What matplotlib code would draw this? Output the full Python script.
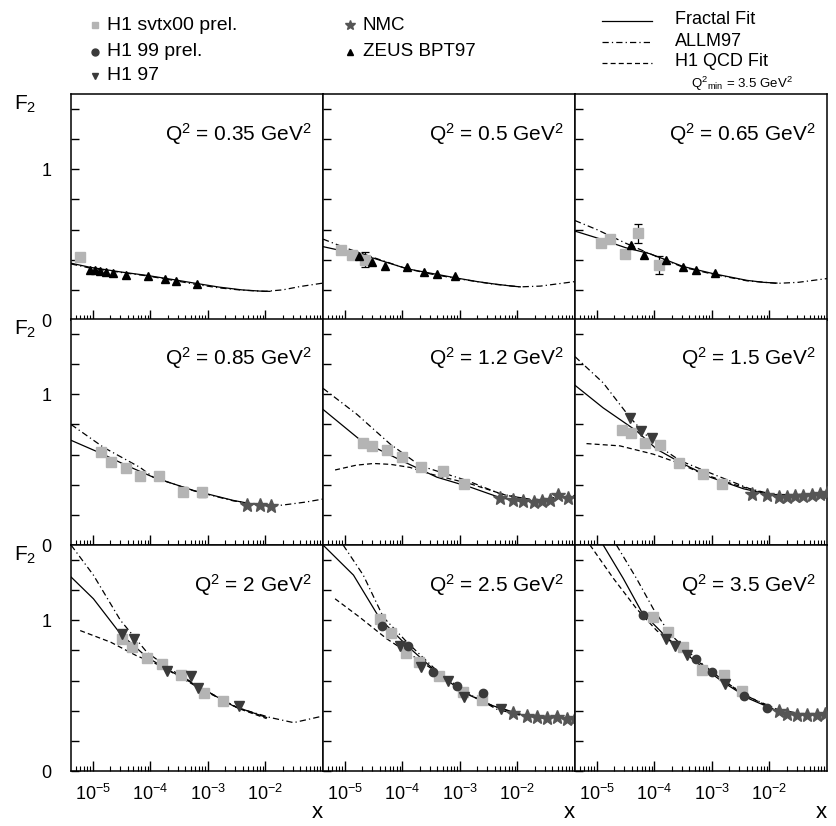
import numpy as np
import matplotlib
matplotlib.use('Agg')
from matplotlib import pyplot as plt
from matplotlib.ticker import LogLocator, NullFormatter

plt.rcParams['font.family'] = ['Liberation Sans', 'DejaVu Sans']
plt.rcParams['mathtext.fontset'] = 'custom'
plt.rcParams['mathtext.rm'] = 'Liberation Sans'
plt.rcParams['mathtext.it'] = 'Liberation Sans:italic'

# Q^2 бины (GeV^2), по панелям слева направо, сверху вниз
q2_labels = ['0.35', '0.5', '0.65', '0.85', '1.2', '1.5', '2', '2.5', '3.5']

# кривые: log10(x) и F2 для каждой панели
fractal_lx = [
    [-5.38, -5.05, -4.5, -4.06, -3.6, -3.19, -2.8, -2.41, -2.1, -1.92],
    [-5.38, -5.0, -4.5, -3.92, -3.5, -3.05, -2.7, -2.42, -2.1, -1.95],
    [-5.38, -5.0, -4.5, -4.08, -3.5, -2.97, -2.39, -2.1, -1.87],
    [-5.38, -4.85, -4.41, -3.95, -3.25, -2.56, -2.2, -1.92],
    [-5.38, -4.71, -4.01, -3.4, -2.82, -2.3, -1.95],
    [-5.38, -4.89, -4.31, -3.96, -3.55, -3.03, -2.45, -1.93],
    [-5.38, -4.99, -4.52, -4.06, -3.66, -3.14, -2.56, -1.98],
    [-5.38, -4.85, -4.39, -3.92, -3.4, -2.94, -2.42, -1.95],
    [-4.89, -4.54, -4.22, -3.79, -3.27, -2.8, -2.34, -1.93],
]
fractal_f2 = [
    [0.377, 0.35, 0.318, 0.296, 0.268, 0.242, 0.218, 0.2, 0.192, 0.19],
    [0.487, 0.455, 0.41, 0.34, 0.31, 0.278, 0.255, 0.24, 0.225, 0.22],
    [0.59, 0.545, 0.48, 0.44, 0.355, 0.307, 0.263, 0.25, 0.245],
    [0.695, 0.607, 0.527, 0.45, 0.362, 0.296, 0.27, 0.257],
    [0.9, 0.69, 0.559, 0.45, 0.384, 0.314, 0.29],
    [1.06, 0.91, 0.757, 0.636, 0.548, 0.45, 0.373, 0.329],
    [1.288, 1.143, 0.91, 0.755, 0.665, 0.555, 0.432, 0.355],
    [1.5, 1.3, 1.01, 0.832, 0.655, 0.521, 0.432, 0.377],
    [1.5, 1.277, 1.055, 0.888, 0.721, 0.588, 0.477, 0.41],
]
allm_lx = [
    [-5.38, -5.05, -4.5, -4.06, -3.6, -3.19, -2.8, -2.41, -2.0, -1.7, -1.4, -1.0],
    [-5.38, -5.0, -4.39, -3.92, -3.5, -3.05, -2.42, -1.95, -1.6, -1.3, -1.0],
    [-5.38, -5.0, -4.5, -4.08, -3.5, -2.97, -2.39, -1.87, -1.5, -1.2, -1.0],
    [-5.38, -4.81, -4.18, -3.95, -3.25, -2.56, -1.92, -1.6, -1.3, -1.0],
    [-5.38, -4.79, -4.21, -3.69, -2.88, -2.3, -1.72, -1.37, -1.0],
    [-5.38, -4.89, -4.42, -4.02, -3.55, -2.92, -2.34, -1.87, -1.4, -1.0],
    [-5.38, -4.99, -4.52, -4.06, -3.66, -3.08, -2.5, -1.92, -1.51, -1.0],
    [-5.03, -4.68, -4.33, -3.92, -3.4, -2.94, -2.36, -1.95, -1.49, -1.0],
    [-4.66, -4.31, -4.02, -3.73, -3.27, -2.8, -2.34, -1.87, -1.41, -1.0],
]
allm_f2 = [
    [0.372, 0.345, 0.315, 0.293, 0.263, 0.235, 0.213, 0.198, 0.19, 0.2, 0.222, 0.245],
    [0.537, 0.48, 0.4, 0.34, 0.305, 0.275, 0.238, 0.22, 0.225, 0.24, 0.255],
    [0.66, 0.6, 0.51, 0.44, 0.35, 0.303, 0.26, 0.243, 0.25, 0.265, 0.275],
    [0.8, 0.647, 0.515, 0.45, 0.36, 0.293, 0.255, 0.27, 0.285, 0.305],
    [1.04, 0.867, 0.669, 0.526, 0.428, 0.34, 0.296, 0.3, 0.329],
    [1.25, 1.076, 0.844, 0.68, 0.559, 0.461, 0.373, 0.329, 0.335, 0.35],
    [1.5, 1.3, 1.0, 0.788, 0.677, 0.543, 0.421, 0.355, 0.321, 0.365],
    [1.5, 1.3, 1.02, 0.855, 0.665, 0.532, 0.41, 0.37, 0.348, 0.355],
    [1.5, 1.277, 1.077, 0.91, 0.743, 0.599, 0.488, 0.41, 0.377, 0.377],
]
qcd_lx = [
    [], [], [], [],
    [-5.17, -4.8, -4.5, -4.2, -3.87, -3.5, -2.82, -2.19, -1.72, -1.0],
    [-5.18, -4.6, -4.02, -3.61, -3.15, -2.6, -2.0, -1.5, -1.0],
    [-5.22, -4.69, -4.24, -3.83, -3.14, -2.43, -1.98],
    [-5.17, -4.74, -4.27, -3.87, -3.4, -2.94, -2.42, -1.95],
    [-5.12, -4.71, -4.31, -3.96, -3.55, -3.0, -2.5, -1.93],
]
qcd_f2 = [
    [], [], [], [],
    [0.498, 0.53, 0.541, 0.535, 0.515, 0.47, 0.406, 0.329, 0.3, 0.329],
    [0.673, 0.658, 0.603, 0.548, 0.471, 0.4, 0.335, 0.335, 0.35],
    [0.932, 0.855, 0.765, 0.7, 0.548, 0.41, 0.348],
    [1.143, 1.02, 0.877, 0.777, 0.655, 0.525, 0.43, 0.375],
    [1.5, 1.277, 1.077, 0.932, 0.81, 0.66, 0.52, 0.41],
]

# данные
svtx_lx = [
    [-5.22],
    [-5.07, -4.88, -4.65],
    [-4.93, -4.77, -4.51, -4.28, -3.92],
    [-4.85, -4.69, -4.43, -4.18, -3.85, -3.44, -3.11],
    [-4.68, -4.52, -4.27, -4.01, -3.68, -3.29, -2.93],
    [-4.56, -4.4, -4.16, -3.9, -3.57, -3.16, -2.83],
    [-4.5, -4.32, -4.06, -3.8, -3.47, -3.06, -2.73],
    [-4.39, -4.2, -3.94, -3.71, -3.36, -2.94, -2.62],
    [-4.03, -3.77, -3.51, -3.18, -2.79, -2.47],
]
svtx_f2 = [
    [0.42],
    [0.465, 0.43, 0.4],
    [0.51, 0.537, 0.44, 0.575, 0.368],
    [0.614, 0.553, 0.509, 0.461, 0.461, 0.355, 0.349],
    [0.68, 0.658, 0.63, 0.586, 0.52, 0.489, 0.406],
    [0.763, 0.746, 0.68, 0.664, 0.544, 0.471, 0.406],
    [0.877, 0.821, 0.748, 0.71, 0.637, 0.515, 0.465],
    [1.01, 0.917, 0.783, 0.725, 0.632, 0.525, 0.472],
    [1.021, 0.921, 0.821, 0.672, 0.639, 0.532],
]
svtx_err = [
    [0.0],
    [0.0, 0.0, 0.05],
    [0.0, 0.0, 0.0, 0.065, 0.06],
    [0.0, 0.0, 0.0, 0.0, 0.0, 0.03, 0.03],
    [0.0] * 7,
    [0.0] * 7,
    [0.0] * 7,
    [0.0] * 7,
    [0.0] * 6,
]
h199_lx = [[], [], [], [], [], [], [],
           [-4.36, -3.91, -3.46, -3.05, -2.6],
           [-4.2, -3.27, -3.0, -2.45, -2.05]]
h199_f2 = [[], [], [], [], [], [], [],
           [0.965, 0.828, 0.655, 0.565, 0.521],
           [1.037, 0.743, 0.655, 0.499, 0.421]]
h197_lx = [[], [], [], [], [],
           [-4.43, -4.24, -4.05],
           [-4.49, -4.29, -3.71, -3.29, -3.17, -2.46],
           [-4.04, -3.67, -3.2, -2.93, -2.28],
           [-3.79, -3.65, -3.44, -2.77]]
h197_f2 = [[], [], [], [], [],
           [0.84, 0.757, 0.713],
           [0.91, 0.877, 0.665, 0.632, 0.548, 0.432],
           [0.828, 0.688, 0.599, 0.488, 0.41],
           [0.877, 0.832, 0.77, 0.577]]
nmc_lx = [[], [], [],
          [-2.32, -2.09, -1.9],
          [-2.3, -2.07, -1.9, -1.72, -1.58, -1.43, -1.29, -1.13],
          [-2.31, -2.05, -1.84, -1.7, -1.55, -1.41, -1.26, -1.12, -1.0],
          [],
          [-2.07, -1.84, -1.66, -1.49, -1.32, -1.14, -1.0],
          [-1.84, -1.7, -1.53, -1.35, -1.18, -1.03]]
nmc_f2 = [[], [], [],
          [0.268, 0.263, 0.257],
          [0.314, 0.3, 0.292, 0.285, 0.292, 0.3, 0.333, 0.314],
          [0.34, 0.329, 0.318, 0.318, 0.322, 0.324, 0.333, 0.34, 0.344],
          [],
          [0.388, 0.365, 0.359, 0.355, 0.361, 0.348, 0.355],
          [0.399, 0.377, 0.372, 0.375, 0.375, 0.377]]
zeus_lx = [[-5.05, -4.96, -4.88, -4.78, -4.65, -4.43, -4.05, -3.75, -3.55, -3.19],
           [-4.75, -4.53, -4.3, -3.92, -3.63, -3.4, -3.08],
           [-4.41, -4.18, -3.79, -3.5, -3.28, -2.95],
           [], [], [], [], [], []]
zeus_f2 = [[0.333, 0.33, 0.325, 0.318, 0.311, 0.3, 0.29, 0.27, 0.257, 0.24],
           [0.428, 0.384, 0.357, 0.35, 0.318, 0.303, 0.294],
           [0.5, 0.434, 0.395, 0.35, 0.335, 0.311],
           [], [], [], [], [], []]

W, H = 836, 826
fig = plt.figure(figsize=(W / 100, H / 100), dpi=100)

col_left = [71, 323, 575]
row_bottom = [320, 545, 771]
pw, ph = 252, 226

ls_allm = (0, (5, 2.5, 1, 2.5))
ls_qcd = (0, (4, 2.5))
c_svtx = '#b4b4b4'
c_dark = '#3a3a3a'
c_nmc = '#555555'

for i, q2 in enumerate(q2_labels):
    r, c = divmod(i, 3)
    ax = fig.add_axes([col_left[c] / W, 1 - row_bottom[r] / H, pw / W, ph / H])
    ax.set_xscale('log')
    ax.set_xlim(10 ** -5.38, 10 ** -1.0)
    ax.set_ylim(0, 1.5)

    ax.plot(10.0 ** np.array(allm_lx[i]), allm_f2[i], color='k', lw=0.9, ls=ls_allm)
    if qcd_lx[i]:
        ax.plot(10.0 ** np.array(qcd_lx[i]), qcd_f2[i], color='k', lw=0.9, ls=ls_qcd)
    ax.plot(10.0 ** np.array(fractal_lx[i]), fractal_f2[i], color='k', lw=0.9)

    sx = 10.0 ** np.array(svtx_lx[i])
    err = np.array(svtx_err[i])
    m = err > 0
    if m.any():
        ax.errorbar(sx[m], np.array(svtx_f2[i])[m], yerr=err[m], fmt='none',
                    ecolor='k', elinewidth=0.9, capsize=3, capthick=0.9, zorder=3)
    ax.plot(sx, svtx_f2[i], 's', color=c_svtx, ms=7, mec=c_svtx, zorder=4)
    if zeus_lx[i]:
        ax.plot(10.0 ** np.array(zeus_lx[i]), zeus_f2[i], '^', color='k', ms=6, zorder=4)
    if h199_lx[i]:
        ax.plot(10.0 ** np.array(h199_lx[i]), h199_f2[i], 'o', color=c_dark, ms=6, zorder=4)
    if h197_lx[i]:
        ax.plot(10.0 ** np.array(h197_lx[i]), h197_f2[i], 'v', color=c_dark, ms=7, zorder=4)
    if nmc_lx[i]:
        ax.plot(10.0 ** np.array(nmc_lx[i]), nmc_f2[i], '*', color=c_nmc, ms=10, zorder=4)

    ax.text(0.955, 0.825, r'Q$^2$ = ' + q2 + r' GeV$^2$', transform=ax.transAxes,
            ha='right', va='center', fontsize=15)

    # оси
    for sp in ax.spines.values():
        sp.set_linewidth(1.1)
    ax.set_xticks([1e-5, 1e-4, 1e-3, 1e-2])
    ax.xaxis.set_minor_locator(LogLocator(base=10, subs=np.arange(2, 10)))
    ax.xaxis.set_minor_formatter(NullFormatter())
    ax.tick_params(axis='x', which='major', direction='in', length=7, width=1, top=False)
    ax.tick_params(axis='x', which='minor', direction='in', length=3.5, width=0.8, top=False)
    ax.set_yticks(np.arange(0, 1.41, 0.2))
    ax.tick_params(axis='y', direction='in', length=6, width=1, right=False)
    if r == 2:
        ax.set_xticklabels([r'$10^{-5}$', r'$10^{-4}$', r'$10^{-3}$', r'$10^{-2}$'],
                           fontsize=13)
        ax.tick_params(axis='x', pad=9)
    else:
        ax.set_xticklabels([])
    if c == 0:
        ax.set_yticklabels(['0', '', '', '', '', '1', '', ''], fontsize=13)
        ax.tick_params(axis='y', pad=14)
    else:
        ax.set_yticklabels([])

# подписи осей
for r in range(3):
    fig.text(25 / W, 1 - (row_bottom[r] - ph + 10) / H, r'F$_2$', fontsize=15,
             ha='center', va='center')
for c in range(3):
    fig.text((col_left[c] + pw - 6) / W, 1 - 812 / H, 'x', fontsize=16,
             ha='center', va='center')

# легенда
leg = fig.add_axes([0, 0, 1, 1], facecolor='none')
leg.set_xlim(0, W)
leg.set_ylim(H, 0)
leg.axis('off')
leg.plot(95, 25, 's', color=c_svtx, ms=5)
leg.plot(95, 52, 'o', color=c_dark, ms=5)
leg.plot(95, 76, 'v', color=c_dark, ms=5)
leg.text(107, 25, 'H1 svtx00 prel.', fontsize=14, va='center')
leg.text(107, 52, 'H1 99 prel.', fontsize=14, va='center')
leg.text(107, 76, 'H1 97', fontsize=14, va='center')
leg.plot(350, 25, '*', color=c_nmc, ms=7)
leg.plot(350, 52, '^', color='k', ms=5)
leg.text(363, 25, 'NMC', fontsize=13.5, va='center')
leg.text(363, 52, 'ZEUS BPT97', fontsize=13.5, va='center')
leg.plot([602, 652], [21, 21], color='k', lw=0.9)
leg.plot([602, 652], [42, 42], color='k', lw=0.9, ls=ls_allm)
leg.plot([602, 652], [63, 63], color='k', lw=0.9, ls=ls_qcd)
leg.text(675, 20, 'Fractal Fit', fontsize=13, va='center')
leg.text(675, 41, 'ALLM97', fontsize=13, va='center')
leg.text(675, 62, 'H1 QCD Fit', fontsize=13, va='center')
leg.text(691, 84, r'Q$^2{}_{\mathrm{min}}$ = 3.5 GeV$^2$', fontsize=9.5, va='center')

plt.savefig('out.png', dpi=100)
